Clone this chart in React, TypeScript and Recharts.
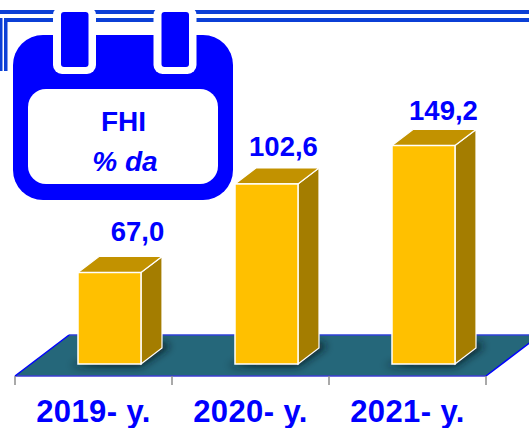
import { BarChart, Bar, XAxis, YAxis, LabelList } from 'recharts';

const years = ['2019- y.', '2020- y.', '2021- y.'];
const valueLabels = ['67,0', '102,6', '149,2'];
// height of each bar as drawn; the middle one is taller than its printed label
const barHeights = [67, 124.3, 149.2];

const chartData = years.map((year, i) => ({
  year,
  height: barHeights[i],
  label: valueLabels[i],
}));

const BLUE = '#0000ff';
const LINE_BLUE = '#0b3fd6';
const FONT = '"Liberation Sans", Arial, sans-serif';
const AXIS_HEIGHT = 52;
const margin = { top: 67, right: 43, bottom: 0, left: 15 };
const baseY = 428 - AXIS_HEIGHT;
const bandWidth = (529 - margin.left - margin.right) / years.length;
const floorPoints = `${margin.left},${baseY} ${529 - margin.right},${baseY} 540,335 69,335`;

const labelNudge = [
  { dx: 28, dy: -31 },
  { dx: 17, dy: -28 },
  { dx: 20, dy: -25 },
];

function Floor() {
  return (
    <g>
      <defs>
        <filter id="barShadow" x="-30%" y="-60%" width="160%" height="220%">
          <feGaussianBlur stdDeviation="4" />
        </filter>
        <clipPath id="floorClip">
          <polygon points={floorPoints} />
        </clipPath>
      </defs>
      <polygon points={floorPoints} fill="#25677a" />
      <line x1={69} y1={335} x2={540} y2={335} stroke="#2f3fd8" strokeWidth={1.5} />
      <line x1={margin.left} y1={baseY} x2={529 - margin.right} y2={baseY} stroke="#3c3cd0" strokeWidth={1.5} />
      <line x1={margin.left} y1={baseY} x2={69} y2={335} stroke={BLUE} strokeWidth={1.5} />
      <line x1={529 - margin.right} y1={baseY} x2={540} y2={335} stroke={BLUE} strokeWidth={1.5} />
      {[0, 1, 2, 3].map(i => {
        const x = margin.left + i * bandWidth;
        return <line key={i} x1={x} y1={baseY} x2={x} y2={baseY + 9} stroke="#8c8c8c" strokeWidth={1.5} />;
      })}
    </g>
  );
}

function Bar3D(props: any) {
  const { x, y, width, height } = props;
  const left = x + 16;
  const right = left + width;
  const bottom = y + height - 12;
  const dx = 21;
  const dy = 16;
  return (
    <g>
      <g clipPath="url(#floorClip)">
        <polygon
          points={`${left - 8},${bottom + 2} ${right},${bottom + 2} ${right + dx + 8},${bottom - dy - 2} ${right + dx},${bottom - dy - 6}`}
          fill="#0a1c22"
          filter="url(#barShadow)"
        />
      </g>
      <polygon
        points={`${right},${y} ${right + dx},${y - dy} ${right + dx},${bottom - dy} ${right},${bottom}`}
        fill="#a47d00"
        stroke="#fff"
        strokeWidth={1.2}
      />
      <polygon
        points={`${left},${y} ${left + dx},${y - dy} ${right + dx},${y - dy} ${right},${y}`}
        fill="#c29200"
        stroke="#fff"
        strokeWidth={1.2}
      />
      <rect x={left} y={y} width={width} height={bottom - y} fill="#ffc000" stroke="#fff" strokeWidth={1.5} />
    </g>
  );
}

function ValueLabel(props: any) {
  const { x, y, width, index, value } = props;
  const nudge = labelNudge[index];
  return (
    <text
      x={x + 16 + width / 2 + nudge.dx}
      y={y + nudge.dy}
      textAnchor="middle"
      fill={BLUE}
      fontFamily={FONT}
      fontWeight={700}
      fontSize={27.5}
    >
      {value}
    </text>
  );
}

function Frame() {
  return (
    <g>
      <rect x={0} y={10} width={529} height={4} fill={LINE_BLUE} />
      <rect x={4} y={18} width={525} height={4} fill={LINE_BLUE} />
      <rect x={0} y={18} width={2.5} height={53} fill={LINE_BLUE} />
      <rect x={4} y={18} width={3.5} height={53} fill={LINE_BLUE} />
    </g>
  );
}

function CalendarBadge() {
  return (
    <g>
      <rect x={13} y={35} width={220} height={165} rx={30} fill={BLUE} />
      <rect x={28} y={89} width={190} height={95} rx={18} fill="#fff" />
      {[53, 153.5].map(x => (
        <g key={x}>
          <rect x={x} y={6} width={43} height={68} rx={9} fill="#fff" />
          <rect x={x + 8} y={12} width={27.5} height={55} rx={3} fill={BLUE} />
        </g>
      ))}
      <text x={123.5} y={131} textAnchor="middle" fill={BLUE} fontFamily={FONT} fontWeight={700} fontSize={28}>
        FHI
      </text>
      <text x={125} y={171} textAnchor="middle" fill={BLUE} fontFamily={FONT} fontWeight={700} fontStyle="italic" fontSize={28}>
        % da
      </text>
    </g>
  );
}

export default function App() {
  return (
    <div style={{ position: 'absolute', left: 0, top: 0, width: 529, height: 428, overflow: 'hidden', background: '#fff' }}>
      <BarChart width={529} height={428} data={chartData} margin={margin}>
        <Frame />
        <Floor />
        <XAxis
          dataKey="year"
          axisLine={false}
          tickLine={false}
          interval={0}
          height={AXIS_HEIGHT}
          tickMargin={18}
          tick={{ fill: BLUE, fontFamily: FONT, fontWeight: 700, fontSize: 31, letterSpacing: 0.4 }}
        />
        <YAxis hide domain={[0, 200]} />
        <Bar dataKey="height" barSize={63} shape={Bar3D} isAnimationActive={false}>
          <LabelList dataKey="label" content={ValueLabel} />
        </Bar>
        <CalendarBadge />
      </BarChart>
    </div>
  );
}
